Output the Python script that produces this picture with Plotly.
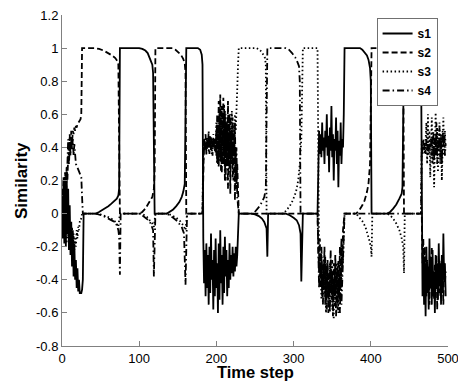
import plotly.graph_objects as go

# ---------------- data ----------------
# Smooth parts: explicit (time step, similarity) knots
s1_knots = [(28, 0.0), (44, 0.0), (48, 0.01), (52, 0.02), (56, 0.035), (60, 0.045), (64, 0.06),
            (68, 0.075), (71, 0.09), (73, 0.11), (74, 0.15), (75, 1.0), (100, 1.0), (104, 0.995),
            (108, 0.985), (111, 0.97), (113, 0.95), (115, 0.925), (117, 0.9), (118, 0.85), (119, 0.1),
            (120, 0.0), (136, 0.0), (140, 0.01), (144, 0.025), (148, 0.045), (152, 0.07), (155, 0.1),
            (157, 0.13), (159, 0.18), (161, 1.0), (176, 1.0), (179, 0.99), (181, 0.96), (182, 0.9),
            (229, 0.0), (245, 0.0), (250, -0.005), (255, -0.015), (259, -0.03), (262, -0.05),
            (265, -0.09), (266, -0.26), (267, 0.0), (290, 0.0), (295, -0.01), (300, -0.025),
            (304, -0.04), (307, -0.07), (309, -0.12), (310, -0.41), (311, -0.1), (312, 0.0), (331, 0.0),
            (366, 1.0), (386, 1.0), (389, 0.99), (392, 0.975), (395, 0.955), (397, 0.93), (399, 0.88),
            (400, 0.8), (401, 0.0), (421, 0.0), (425, 0.01), (429, 0.03), (433, 0.055), (437, 0.09),
            (440, 0.12), (441, 0.16), (443, 1.0), (465, 1.0)]
s2_knots = [(26, 1.0), (42, 1.0), (48, 0.995), (54, 0.985), (60, 0.97), (65, 0.955), (69, 0.94),
            (72, 0.92), (73, 0.9), (75, 0.0), (100, 0.0), (104, 0.01), (108, 0.03), (112, 0.06),
            (115, 0.08), (117, 0.1), (119, 0.15), (120, 0.25), (121, 1.0), (143, 1.0), (147, 0.99),
            (151, 0.975), (154, 0.96), (157, 0.935), (159, 0.91), (160, 0.85), (161, 0.0), (182, 0.0),
            (229, 0.0), (264, 0.0), (310, 0.0), (331, 0.0), (366, 0.0), (381, 0.0), (385, 0.02),
            (389, 0.05), (392, 0.08), (395, 0.13), (397, 0.18), (399, 0.3), (401, 1.0), (436, 1.0),
            (440, 0.98), (442, 0.95), (443, 0.0), (466, 0.0)]
s3_knots = [(28, 0.0), (44, 0.0), (50, -0.005), (56, -0.015), (62, -0.025), (67, -0.04), (71, -0.06),
            (73, -0.08), (75, 0.0), (100, 0.0), (105, -0.005), (110, -0.02), (114, -0.04), (117, -0.06),
            (119, -0.08), (121, 0.0), (136, 0.0), (142, -0.01), (148, -0.025), (153, -0.045),
            (157, -0.07), (160, -0.1), (162, 0.0), (182, 0.0), (229, 1.0), (252, 1.0), (256, 0.99),
            (259, 0.975), (261, 0.96), (263, 0.94), (264, 0.9), (265, 0.0), (287, 0.0), (291, 0.02),
            (295, 0.045), (299, 0.08), (303, 0.13), (306, 0.2), (308, 0.3), (310, 0.45), (312, 1.0),
            (331, 1.0), (366, 0.0), (381, 0.0), (385, -0.02), (389, -0.045), (393, -0.08),
            (396, -0.12), (398, -0.16), (400, -0.2), (401, -0.26), (402, 0.0), (421, 0.0),
            (425, -0.01), (429, -0.03), (433, -0.06), (437, -0.1), (440, -0.15), (442, -0.2),
            (443, -0.36), (444, 0.0), (465, 0.0)]
s4_knots = [(27, 0.0), (44, 0.0), (48, -0.005), (52, -0.012), (56, -0.02), (60, -0.03), (64, -0.04),
            (68, -0.05), (71, -0.07), (73, -0.1), (74, -0.14), (75, -0.37), (76, 0.0), (100, 0.0),
            (104, -0.01), (108, -0.025), (112, -0.04), (115, -0.06), (117, -0.08), (118, -0.1),
            (119, -0.38), (121, 0.0), (136, 0.0), (140, -0.01), (144, -0.025), (148, -0.04),
            (152, -0.06), (155, -0.08), (158, -0.12), (160, -0.43), (162, 0.0), (182, 0.0),
            (229, 0.0), (248, 0.0), (252, 0.02), (256, 0.045), (259, 0.07), (262, 0.1), (264, 0.15),
            (266, 1.0), (290, 1.0), (294, 0.99), (298, 0.97), (302, 0.945), (305, 0.915), (307, 0.89),
            (308, 0.8), (309, 0.0), (331, 0.0), (366, 0.0), (401, 0.0), (443, 0.0), (465, 0.0)]

# Noisy parts: first time step -> values at consecutive time steps
s1_noise = {
    0: [0.10, -0.15, 0.22, -0.18, 0.18, -0.20, 0.25, -0.12, 0.15, -0.22, 0.05, -0.25, -0.05, -0.32,
        -0.10, -0.38, -0.18, -0.40, -0.28, -0.45, -0.33, -0.47, -0.40, -0.48, -0.48, -0.48, -0.46, -0.40],
    183: [-0.15, -0.42, -0.22, -0.50, -0.18, -0.45, -0.25, -0.55, -0.20, -0.48, -0.12, -0.40, -0.28,
          -0.58, -0.22, -0.50, -0.15, -0.45, -0.30, -0.60, -0.18, -0.52, -0.10, -0.42, -0.25, -0.55,
          -0.20, -0.48, -0.14, -0.38, -0.22, -0.50, -0.28, -0.45, -0.18, -0.40, -0.25, -0.36, -0.20,
          -0.38, -0.24, -0.35, -0.20, -0.32, -0.25, -0.10],
    332: [0.40, 0.50, 0.36, 0.48, 0.34, 0.55, 0.38, 0.46, 0.30, 0.50, 0.40, 0.60, 0.35, 0.47, 0.25,
          0.52, 0.38, 0.65, 0.34, 0.48, 0.20, 0.45, 0.38, 0.58, 0.30, 0.50, 0.16, 0.44, 0.35, 0.55,
          0.30, 0.45, 0.40, 0.60],
    466: [-0.20, -0.50, -0.25, -0.55, -0.30, -0.62, -0.20, -0.48, -0.35, -0.58, -0.15, -0.45, -0.28,
          -0.55, -0.22, -0.50, -0.35, -0.60, -0.25, -0.45, -0.30, -0.52, -0.18, -0.42, -0.30, -0.55,
          -0.25, -0.48, -0.12, -0.40, -0.30, -0.50],
}
s2_noise = {
    0: [0.15, 0.05, 0.20, 0.10, 0.25, 0.15, 0.28, 0.20, 0.35, 0.30, 0.40, 0.38, 0.45, 0.42, 0.50,
        0.48, 0.52, 0.50, 0.53, 0.52, 0.54, 0.55, 0.55, 0.56, 0.57, 0.60],
    183: [0.40, 0.44, 0.40, 0.43, 0.41, 0.45, 0.42, 0.40, 0.44, 0.41, 0.46, 0.42, 0.40, 0.44, 0.42,
          0.38, 0.45, 0.35, 0.60, 0.30, 0.68, 0.35, 0.72, 0.25, 0.65, 0.40, 0.70, 0.30, 0.62, 0.20,
          0.55, 0.35, 0.68, 0.28, 0.60, 0.12, 0.50, 0.30, 0.58, 0.20, 0.45, 0.08, 0.40, 0.15, 0.30, 0.05],
    332: [-0.20, -0.35, -0.15, -0.45, -0.25, -0.50, -0.30, -0.42, -0.20, -0.55, -0.32, -0.48, -0.28,
          -0.60, -0.35, -0.45, -0.22, -0.52, -0.38, -0.62, -0.30, -0.50, -0.25, -0.45, -0.35, -0.58,
          -0.28, -0.48, -0.20, -0.40, -0.15, -0.35, -0.10, -0.05],
    467: [-0.30, -0.15, -0.42, -0.20, -0.38, -0.50, -0.28, -0.45, -0.32, -0.55, -0.26, -0.40, -0.20,
          -0.46, -0.35, -0.52, -0.30, -0.44, -0.25, -0.58, -0.36, -0.48, -0.28, -0.50, -0.32, -0.45,
          -0.38, -0.55, -0.30, -0.42, -0.35],
}
s3_noise = {
    0: [0.00, 0.12, -0.10, 0.15, -0.12, 0.08, -0.18, 0.05, -0.15, 0.02, -0.20, -0.05, -0.22, -0.08,
        -0.25, -0.12, -0.22, -0.15, -0.20, -0.10, -0.15, -0.08, -0.10, -0.05, -0.05, -0.02, 0.00, 0.00],
    183: [0.42, 0.38, 0.44, 0.40, 0.46, 0.39, 0.43, 0.37, 0.45, 0.40, 0.42, 0.36, 0.45, 0.40, 0.44,
          0.38, 0.42, 0.55, 0.30, 0.50, 0.35, 0.62, 0.40, 0.58, 0.30, 0.50, 0.45, 0.66, 0.38, 0.60,
          0.42, 0.55, 0.30, 0.58, 0.40, 0.50, 0.35, 0.62, 0.40, 0.55, 0.45, 0.60, 0.50, 0.70, 0.75, 0.90],
    332: [-0.05, -0.28, -0.40, -0.30, -0.52, -0.38, -0.45, -0.26, -0.50, -0.36, -0.60, -0.30, -0.44,
          -0.38, -0.55, -0.30, -0.48, -0.35, -0.58, -0.40, -0.64, -0.33, -0.50, -0.30, -0.55, -0.42,
          -0.60, -0.36, -0.52, -0.30, -0.45, -0.20, -0.30, -0.10],
    466: [0.42, 0.38, 0.45, 0.40, 0.36, 0.44, 0.55, 0.30, 0.60, 0.35, 0.50, 0.22, 0.48, 0.58, 0.30,
          0.45, 0.16, 0.40, 0.61, 0.35, 0.52, 0.25, 0.45, 0.55, 0.30, 0.48, 0.20, 0.42, 0.58, 0.35,
          0.50, 0.40],
}
s4_noise = {
    0: [0.05, -0.05, 0.15, 0.00, 0.20, 0.05, 0.25, 0.30, 0.45, 0.32, 0.48, 0.35, 0.50, 0.38, 0.45,
        0.35, 0.42, 0.33, 0.30, 0.29, 0.28, 0.27, 0.26, 0.25, 0.24, 0.22, 0.10],
    183: [0.30, 0.45, 0.38, 0.48, 0.35, 0.46, 0.40, 0.50, 0.36, 0.47, 0.38, 0.44, 0.35, 0.48, 0.40,
          0.45, 0.37, 0.50, 0.30, 0.55, 0.28, 0.60, 0.32, 0.52, 0.25, 0.58, 0.30, 0.62, 0.20, 0.55,
          0.28, 0.50, 0.15, 0.45, 0.25, 0.60, 0.30, 0.52, 0.22, 0.48, 0.30, 0.55, 0.20, 0.40, 0.10, 0.05],
    332: [-0.30, -0.45, -0.28, -0.38, -0.20, -0.42, -0.55, -0.32, -0.46, -0.26, -0.40, -0.58, -0.30,
          -0.50, -0.42, -0.60, -0.32, -0.45, -0.28, -0.50, -0.42, -0.56, -0.38, -0.62, -0.45, -0.30,
          -0.50, -0.40, -0.60, -0.34, -0.55, -0.38, -0.25, -0.10],
    466: [0.40, 0.36, 0.44, 0.38, 0.43, 0.36, 0.45, 0.39, 0.42, 0.37, 0.44, 0.40, 0.46, 0.35, 0.42,
          0.50, 0.32, 0.48, 0.36, 0.55, 0.30, 0.45, 0.38, 0.52, 0.34, 0.46, 0.30, 0.50, 0.40, 0.48,
          0.35, 0.42],
}

series_names = ["s1", "s2", "s3", "s4"]
series_dash = ["solid", "6px,3px", "1.5px,2.5px", "7px,3px,1.5px,3px"]

y_tick_vals = [-0.8, -0.6, -0.4, -0.2, 0, 0.2, 0.4, 0.6, 0.8, 1.0, 1.2]
y_tick_text = ["-0.8", "-0.6", "-0.4", "-0.2", "0", "0.2", "0.4", "0.6", "0.8", "1", "1.2"]
x_tick_vals = [0, 100, 200, 300, 400, 500]
x_title = "Time step"
y_title = "Similarity"


def assemble(knots, noise):
    pts = list(knots)
    for start, vals in noise.items():
        for i, v in enumerate(vals):
            pts.append((start + i, v))
    pts.sort(key=lambda p: p[0])
    return [p[0] for p in pts], [p[1] for p in pts]


all_knots = [s1_knots, s2_knots, s3_knots, s4_knots]
all_noise = [s1_noise, s2_noise, s3_noise, s4_noise]

FONT = "Liberation Sans, Arial, Helvetica, sans-serif"

fig = go.Figure()
for name, dash, kn, nz in zip(series_names, series_dash, all_knots, all_noise):
    t, v = assemble(kn, nz)
    fig.add_trace(go.Scatter(x=t, y=v, mode="lines", name="<b>" + name + "</b>",
                             line=dict(color="black", width=1.8, dash=dash)))

axis_common = dict(showgrid=False, zeroline=False, showline=True, linecolor="#808080",
                   linewidth=1, ticks="inside", ticklen=5, tickcolor="#808080",
                   tickfont=dict(family=FONT, size=13, color="black"), mirror=False,
                   automargin=False, ticklabeloverflow="allow")

fig.update_layout(
    width=458, height=385,
    margin=dict(l=61.5, r=10.3, t=15, b=39, autoexpand=False),
    paper_bgcolor="white", plot_bgcolor="white",
    font=dict(family=FONT, color="black"),
    xaxis=dict(range=[0, 500], tickvals=x_tick_vals, **axis_common),
    yaxis=dict(range=[-0.8, 1.2], tickvals=y_tick_vals, ticktext=y_tick_text, **axis_common),
    legend=dict(x=0.973, y=0.991, xanchor="right", yanchor="top", bgcolor="white",
                bordercolor="#707070", borderwidth=1,
                font=dict(family=FONT, size=12, color="black")),
    showlegend=True,
    annotations=[
        dict(text="<b>" + x_title + "</b>", xref="paper", yref="paper", x=0.5, y=-0.045,
             xanchor="center", yanchor="top", showarrow=False,
             font=dict(family=FONT, size=16.5, color="black")),
        dict(text="<b>" + y_title + "</b>", xref="paper", yref="paper", x=-0.105, y=0.5,
             xanchor="center", yanchor="middle", textangle=-90, showarrow=False,
             font=dict(family=FONT, size=17, color="black")),
    ],
)

# remove the browser's default 8px page margin so the figure fills the window exactly
fig.write_html("out.html", config={"displayModeBar": False},
               post_script="document.body.style.margin='0';")
